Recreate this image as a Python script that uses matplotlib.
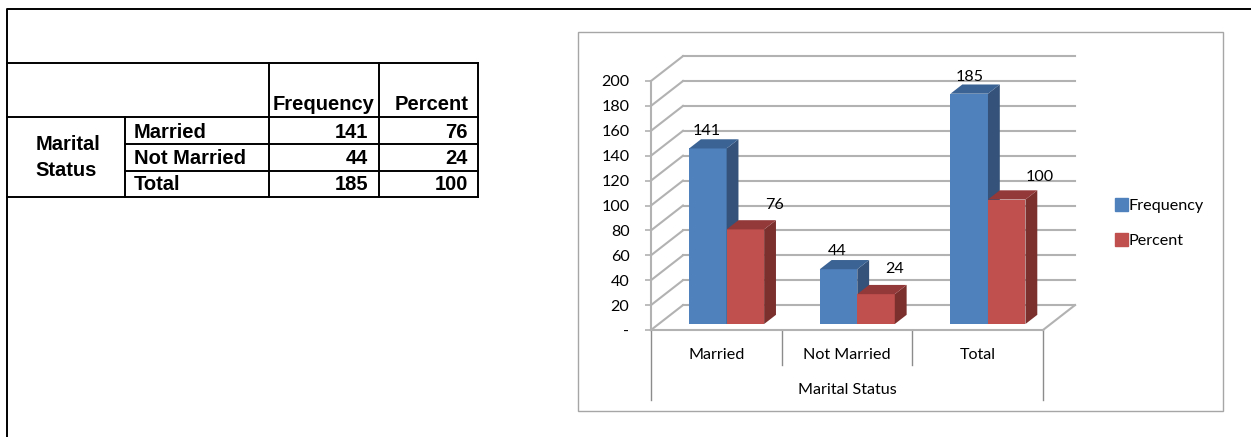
import matplotlib.pyplot as plt
from matplotlib.patches import Patch, Polygon, Rectangle

categories = ["Married", "Not Married", "Total"]
frequency = [141, 44, 185]
percent = [76, 24, 100]
y_ticks = [0, 20, 40, 60, 80, 100, 120, 140, 160, 180, 200]
y_labels = ["-", "20", "40", "60", "80", "100", "120", "140", "160", "180", "200"]
group_title = "Marital Status"
table_header = ["Frequency", "Percent"]

W, H = 1251, 437
BLUE = ("#4f81bd", "#34527a", "#3b6394")
RED = ("#c0504d", "#7b302e", "#93393a")
GRID = "#b2b2b2"
CHART_FS = 11.6

# depth of the fake 3d box, in category / value units
DX = 32 / 130.67
DY = 20.0
BAR_W = 0.287
BAR_D0, BAR_D1 = 0.24, 0.61


def px_axes(fig, x0, y0, x1, y1):
    return fig.add_axes([x0 / W, 1 - y1 / H, (x1 - x0) / W, (y1 - y0) / H])


def proj(x, v, d):
    return x + d * DX, v + d * DY


def draw_bar(ax, x, value, colors, label):
    front, side, top = colors
    x0, x1 = proj(x, 0, BAR_D0)[0], proj(x + BAR_W, 0, BAR_D0)[0]
    base = BAR_D0 * DY
    ax.bar(x0, value, bottom=base, width=x1 - x0, align="edge", color=front,
           zorder=3, label=label, clip_on=False)
    ax.add_patch(Polygon([proj(x + BAR_W, 0, BAR_D0), proj(x + BAR_W, 0, BAR_D1),
                          proj(x + BAR_W, value, BAR_D1), proj(x + BAR_W, value, BAR_D0)],
                         color=side, lw=0, zorder=3, clip_on=False))
    ax.add_patch(Polygon([proj(x, value, BAR_D0), proj(x + BAR_W, value, BAR_D0),
                          proj(x + BAR_W, value, BAR_D1), proj(x, value, BAR_D1)],
                         color=top, lw=0, zorder=3, clip_on=False))


def draw_table(fig):
    ax = fig.add_axes([0, 0, 1, 1])
    ax.set_xlim(0, W)
    ax.set_ylim(H, 0)
    ax.axis("off")
    lw = 1.4
    ax.plot([7, 7, W], [H, 9, 9], color="black", lw=lw)
    for y in [63, 117, 197]:
        ax.plot([7, 478], [y, y], color="black", lw=lw)
    for y in [144, 171]:
        ax.plot([125, 478], [y, y], color="black", lw=lw)
    ax.plot([125, 125], [117, 197], color="black", lw=lw)
    for x in [269, 379, 478]:
        ax.plot([x, x], [63, 197], color="black", lw=lw)

    font = dict(family="Liberation Sans", weight="bold", fontsize=14.5, va="center")
    ax.text(324, 105, table_header[0], ha="center", **font)
    ax.text(468, 105, table_header[1], ha="right", **font)
    ax.text(68, 144, "Marital", ha="center", **font)
    ax.text(66, 171, "Status", ha="center", **font)
    for i, y in enumerate([132, 158, 185]):
        ax.text(134, y, categories[i], ha="left", **font)
        ax.text(368, y, str(frequency[i]), ha="right", **font)
        ax.text(468, y, str(percent[i]), ha="right", **font)
    ax.add_patch(Rectangle((578, 32), 645, 379, fill=False, ec="#a6a6a6", lw=1.0))


def main():
    plt.rcParams["font.family"] = ["Lato", "DejaVu Sans"]
    fig = plt.figure(figsize=(W / 100, H / 100), dpi=100)
    draw_table(fig)

    ax = px_axes(fig, 651, 81, 1043, 330)
    ax.patch.set_alpha(0)
    ax.set_xlim(0, 3)
    ax.set_ylim(0, 200)
    for name in ["top", "right"]:
        ax.spines[name].set_visible(False)
    for name in ["left", "bottom"]:
        ax.spines[name].set_color(GRID)
        ax.spines[name].set_linewidth(1.5)

    # walls and floor
    for v in y_ticks:
        ax.plot([0, DX], [v, v + DY], color=GRID, lw=1.5, clip_on=False, zorder=1)
        ax.plot([DX, 3 + DX], [v + DY, v + DY], color=GRID, lw=1.5, clip_on=False, zorder=1)
    ax.plot([3, 3 + DX], [0, DY], color=GRID, lw=1.5, clip_on=False, zorder=1)

    # category separators below the axis
    for x, low in zip([0, 1, 2, 3], [-56, -28, -28, -56]):
        ax.plot([x, x], [0, low], color="#8c8c8c", lw=1, clip_on=False)

    offset = (1 - 2 * BAR_W) / 2 + 0.02
    for i, (f, p) in enumerate(zip(frequency, percent)):
        draw_bar(ax, i + offset, f, BLUE, "Frequency" if i == 0 else None)
        draw_bar(ax, i + offset + BAR_W, p, RED, "Percent" if i == 0 else None)

    # hand placed data labels, offsets in pixels
    freq_off = [(-1, 17), (-1, 18), (0, 17)]
    pct_off = [(29, 24), (19, 25), (33, 23)]
    for i in range(len(categories)):
        for x, val, off in [(i + offset + BAR_W / 2, frequency[i], freq_off[i]),
                            (i + offset + 1.5 * BAR_W, percent[i], pct_off[i])]:
            xp, vp = proj(x, val, BAR_D0)
            ax.annotate(str(val), (xp, vp), xytext=(off[0] * 0.72, off[1] * 0.72),
                        textcoords="offset points", ha="center", va="center",
                        fontsize=CHART_FS, color="black", zorder=5, annotation_clip=False)

    ax.set_yticks(y_ticks, y_labels, fontsize=CHART_FS)
    ax.tick_params(axis="y", length=4, width=1.2, color=GRID, pad=11.5)
    ax.set_xticks([0.5, 1.5, 2.5], categories, fontsize=CHART_FS)
    ax.tick_params(axis="x", length=0, pad=13)
    ax.set_xlabel(group_title, fontsize=CHART_FS, labelpad=15)

    handles = [Patch(color=BLUE[0], label="Frequency"), Patch(color=RED[0], label="Percent")]
    fig.legend(handles=handles, loc="center left", bbox_to_anchor=(1100 / W, 1 - 223 / H),
               frameon=False, fontsize=CHART_FS, handlelength=0.85, handleheight=0.85,
               handletextpad=0.05, labelspacing=1.25)

    fig.savefig("out.png", dpi=100)


if __name__ == "__main__":
    main()
